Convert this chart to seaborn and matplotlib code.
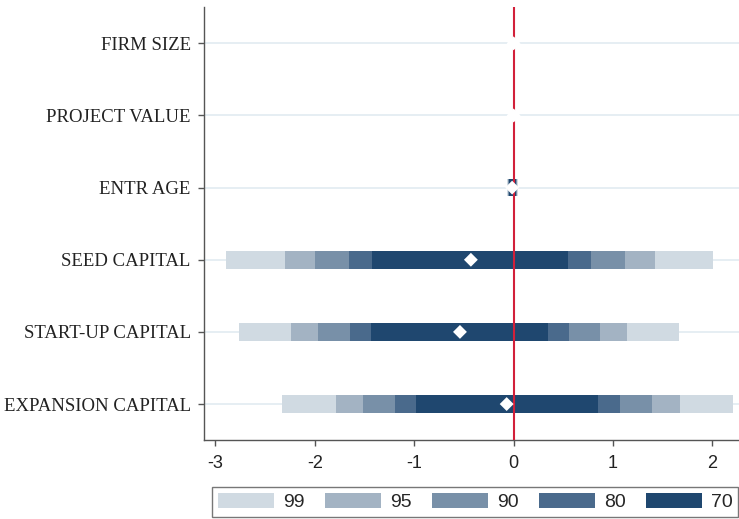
import matplotlib
matplotlib.use("Agg")
import matplotlib.pyplot as plt
from matplotlib.patches import Patch
import seaborn as sns
import pandas as pd

sns.set_style("white")

# data
categories = ["FIRM SIZE", "PROJECT VALUE", "ENTR AGE",
              "SEED CAPITAL", "START-UP CAPITAL", "EXPANSION CAPITAL"]
estimates = [0.0, 0.0, -0.015, -0.43, -0.54, -0.07]
levels = ["99", "95", "90", "80", "70"]
lo99 = [-0.003, -0.003, -0.065, -2.89, -2.76, -2.33]
hi99 = [0.003, 0.003, 0.040, 2.01, 1.66, 2.21]
lo95 = [-0.003, -0.003, -0.060, -2.30, -2.24, -1.79]
hi95 = [0.003, 0.003, 0.035, 1.42, 1.14, 1.67]
lo90 = [-0.002, -0.002, -0.055, -2.00, -1.97, -1.52]
hi90 = [0.002, 0.002, 0.030, 1.12, 0.87, 1.39]
lo80 = [-0.002, -0.002, -0.050, -1.66, -1.65, -1.19]
hi80 = [0.002, 0.002, 0.025, 0.78, 0.56, 1.07]
lo70 = [-0.001, -0.001, -0.045, -1.43, -1.44, -0.98]
hi70 = [0.001, 0.001, 0.020, 0.55, 0.35, 0.85]
colors = ["#d0dae2", "#a3b3c3", "#7890a8", "#4a6a8c", "#1f476f"]

bands = {"99": (lo99, hi99), "95": (lo95, hi95), "90": (lo90, hi90),
         "80": (lo80, hi80), "70": (lo70, hi70)}

fig = plt.figure(figsize=(7.39, 5.19), dpi=100)
ax = fig.add_axes([0.276, 0.152, 0.724, 0.834])

ypos = list(range(len(categories)))
for y in ypos:
    ax.axhline(y, color="#e2ebf1", lw=1.2, zorder=0)

for lev, col in zip(levels, colors):
    lo, hi = bands[lev]
    widths = [h - l for l, h in zip(lo, hi)]
    ax.barh(ypos, widths, left=lo, height=0.245, color=col, lw=0, zorder=2)

ax.axvline(0, color="#d2203a", lw=1.5, zorder=3)

pts = pd.DataFrame({"y": ypos, "est": estimates})
sns.scatterplot(data=pts, x="est", y="y", marker="D", s=50, color="white",
                edgecolor="none", linewidth=0, zorder=4, ax=ax)

ax.set_ylim(5.5, -0.5)
ax.set_xlim(-3.116, 2.268)
ax.set_yticks(ypos)
ax.set_yticklabels(categories, family="Liberation Serif", fontsize=13.5,
                   color="#222222")
ax.set_xticks([-3, -2, -1, 0, 1, 2])
ax.set_xticklabels(["-3", "-2", "-1", "0", "1", "2"],
                   family="Liberation Sans", fontsize=13, color="#222222")
ax.set_xlabel("")
ax.set_ylabel("")
for s in ["top", "right"]:
    ax.spines[s].set_visible(False)
for s in ["left", "bottom"]:
    ax.spines[s].set_color("#555555")
    ax.spines[s].set_linewidth(1.0)
ax.tick_params(axis="both", which="major", direction="out", length=4.5,
               width=1, color="#555555", left=True, bottom=True)
ax.tick_params(axis="y", pad=5)
ax.tick_params(axis="x", pad=6)

handles = [Patch(facecolor=c, edgecolor="none", label=l) for l, c in zip(levels, colors)]
leg = fig.legend(handles=handles, ncol=5, loc="center",
                 bbox_to_anchor=(0.287, 0.002, 0.712, 0.062), mode="expand",
                 frameon=True, fancybox=False, handlelength=2.9, handleheight=0.85,
                 handletextpad=0.45, borderpad=0.3, borderaxespad=0,
                 prop={"family": "Liberation Sans", "size": 14})
leg.get_frame().set_edgecolor("#555555")
leg.get_frame().set_linewidth(1.0)

fig.savefig("out.png", dpi=100)
